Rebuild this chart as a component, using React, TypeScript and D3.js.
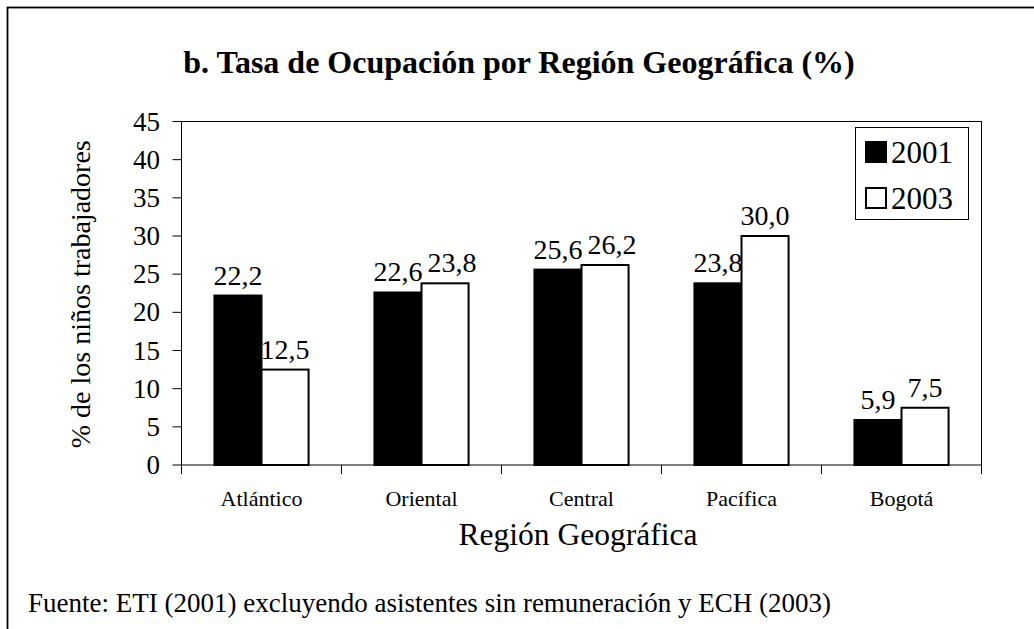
import React from "react";
import * as d3 from "d3";

const categories = ["Atlántico", "Oriental", "Central", "Pacífica", "Bogotá"];
const series2001 = [22.2, 22.6, 25.6, 23.8, 5.9];
const series2003 = [12.5, 23.8, 26.2, 30.0, 7.5];
const seriesNames = ["2001", "2003"];
const yTicks = [0, 5, 10, 15, 20, 25, 30, 35, 40, 45];

const W = 1034;
const H = 629;
const plot = { left: 181.5, right: 981.5, top: 121.5, bottom: 465 };
const FONT = "Liberation Serif, Tinos, Times New Roman, DejaVu Serif, serif";
const LABEL_SIZE = 28;

export default function App() {
  const x = d3.scaleBand<string>().domain(categories).range([plot.left, plot.right]).paddingInner(0).paddingOuter(0);
  const y = d3.scaleLinear().domain([0, 45]).range([plot.bottom, plot.top]);
  const inner = d3.scaleBand<string>().domain(seriesNames).range([0, x.bandwidth()]).paddingInner(0).paddingOuter(0.7);
  const fmt = (v: number) => v.toFixed(1).replace(".", ",");
  const data = [series2001, series2003];
  const fills = ["#000", "#fff"];
  const ts = { fontFamily: FONT };
  const estW = (s: string) => s.split("").reduce((a, ch) => a + (ch === "," ? 0.25 : 0.5), 0) * LABEL_SIZE;

  return (
    <svg width={W} height={H} style={{ position: "absolute", left: 0, top: 0, background: "#fff", fontFamily: FONT }}>
      <rect x={0} y={0} width={W} height={H} fill="#fff" />
      <rect x={7.5} y={7.5} width={W + 20} height={H + 20} fill="none" stroke="#000" strokeWidth={1.8} />
      <text x={519} y={73} textAnchor="middle" fontSize={32} fontWeight="bold" style={ts}>
        b. Tasa de Ocupación por Región Geográfica (%)
      </text>
      <rect x={plot.left} y={plot.top} width={plot.right - plot.left} height={plot.bottom - plot.top} fill="none" stroke="#000" strokeWidth={1} />
      {yTicks.map((t) => (
        <g key={t}>
          <line x1={plot.left - 9} x2={plot.left} y1={y(t)} y2={y(t)} stroke="#000" />
          <text x={160} y={y(t) + 9} textAnchor="end" fontSize={27} style={ts}>{t}</text>
        </g>
      ))}
      {categories.concat(["_end"]).map((c, i) => {
        const xx = plot.left + i * x.bandwidth();
        return <line key={c} x1={xx} x2={xx} y1={plot.bottom} y2={plot.bottom + 9} stroke="#000" />;
      })}
      {categories.map((c, i) => {
        const bw = inner.bandwidth();
        const l1 = fmt(data[0][i]);
        const l2 = fmt(data[1][i]);
        const dy = Math.abs(y(data[0][i]) - y(data[1][i]));
        let shift = 0;
        if (dy < LABEL_SIZE) {
          const ov = (estW(l1) + estW(l2)) / 2 + 5 - bw;
          if (ov > 0) shift = ov;
        }
        return (
          <g key={c}>
            {seriesNames.map((s, j) => {
              const v = data[j][i];
              const bx = (x(c) as number) + (inner(s) as number);
              const lx = bx + bw / 2 + (j === 1 ? shift : 0);
              return (
                <g key={s}>
                  <rect x={bx} y={y(v)} width={bw} height={plot.bottom - y(v)} fill={fills[j]} stroke="#000" strokeWidth={2} />
                  <text x={lx} y={y(v) - 11} textAnchor="middle" fontSize={LABEL_SIZE} style={ts}>{fmt(v)}</text>
                </g>
              );
            })}
            <text x={(x(c) as number) + x.bandwidth() / 2} y={506} textAnchor="middle" fontSize={22} style={ts}>{c}</text>
          </g>
        );
      })}
      <text x={578} y={545} textAnchor="middle" fontSize={31.5} style={ts}>Región Geográfica</text>
      <text transform={`translate(90,${(plot.top + plot.bottom) / 2 + 1}) rotate(-90)`} textAnchor="middle" fontSize={28} style={ts}>
        % de los niños trabajadores
      </text>
      <rect x={855.5} y={127.5} width={113} height={92} fill="#fff" stroke="#000" strokeWidth={1} />
      {seriesNames.map((s, j) => (
        <g key={s}>
          <rect x={866} y={142 + j * 46} width={20} height={20} fill={fills[j]} stroke="#000" strokeWidth={2} />
          <text x={891} y={163 + j * 46} fontSize={31} style={ts}>{s}</text>
        </g>
      ))}
      <text x={28} y={612} fontSize={27} style={ts}>Fuente: ETI (2001) excluyendo asistentes sin remuneración y ECH (2003)</text>
    </svg>
  );
}
